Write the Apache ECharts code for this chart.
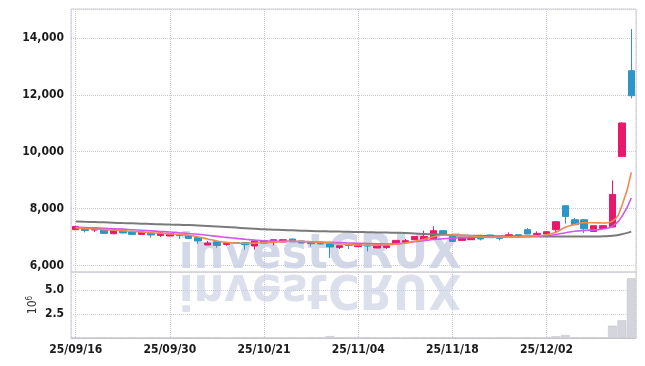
<!DOCTYPE html>
<html>
<head>
<meta charset="utf-8">
<script src="https://cdn.jsdelivr.net/npm/echarts@6/dist/echarts.min.js"></script>
<style>
  html, body { margin: 0; padding: 0; background: #fff; }
  #chart { width: 645px; height: 366px; }
</style>
</head>
<body>
<div id="chart"></div>
<script>
// daily candles, 25/09/16 .. 25/12/15
const dates = [
  '25/09/16', '25/09/17', '25/09/18', '25/09/19', '25/09/22', '25/09/23', '25/09/24', '25/09/25', '25/09/26', '25/09/29',
  '25/09/30', '25/10/01', '25/10/02', '25/10/10', '25/10/13', '25/10/14', '25/10/15', '25/10/16', '25/10/17', '25/10/20',
  '25/10/21', '25/10/22', '25/10/23', '25/10/24', '25/10/27', '25/10/28', '25/10/29', '25/10/30', '25/10/31', '25/11/03',
  '25/11/04', '25/11/05', '25/11/06', '25/11/07', '25/11/10', '25/11/11', '25/11/12', '25/11/13', '25/11/14', '25/11/17',
  '25/11/18', '25/11/19', '25/11/20', '25/11/21', '25/11/24', '25/11/25', '25/11/26', '25/11/27', '25/11/28', '25/12/01',
  '25/12/02', '25/12/03', '25/12/04', '25/12/05', '25/12/08', '25/12/09', '25/12/10', '25/12/11', '25/12/12', '25/12/15'
];

const opens = [
  7256, 7316, 7245, 7256, 7115, 7221, 7175, 7091, 7140, 7055,
  7034, 7091, 7045, 6985, 6718, 6834, 6739, 6799, 6809, 6682,
  6788, 6809, 6823, 6929, 6858, 6823, 6788, 6809, 6633, 6739,
  6658, 6718, 6612, 6633, 6753, 6809, 6904, 6904, 6939, 7221,
  7020, 6880, 6904, 6999, 7070, 6999, 6999, 7080, 7256, 7090,
  7105, 7256, 8100, 7608, 7608, 7196, 7302, 7351, 9835, 12850
];
const closes = [
  7372, 7231, 7291, 7126, 7256, 7140, 7091, 7175, 7070, 7140,
  7126, 7045, 6950, 6858, 6788, 6704, 6774, 6795, 6728, 6858,
  6869, 6904, 6904, 6834, 6788, 6763, 6753, 6647, 6693, 6704,
  6739, 6682, 6739, 6693, 6880, 6869, 7020, 7020, 7221, 7105,
  6844, 6990, 6999, 6929, 6974, 6950, 7080, 7020, 7105, 7126,
  7186, 7537, 7724, 7432, 7291, 7397, 7397, 8498, 11010, 11970
];
const lows = [
  7250, 7161, 7175, 7110, 7100, 7130, 7080, 7085, 6974, 6999,
  7025, 6929, 6940, 6763, 6710, 6623, 6693, 6790, 6552, 6552,
  6780, 6704, 6815, 6825, 6780, 6668, 6745, 6260, 6577, 6577,
  6650, 6493, 6605, 6577, 6745, 6800, 6895, 6895, 6930, 7095,
  6835, 6870, 6895, 6880, 6965, 6880, 6990, 6964, 7095, 7085,
  7100, 7161, 7467, 7420, 7140, 7190, 7295, 7340, 9815, 11875
];
const highs = [
  7380, 7330, 7326, 7265, 7265, 7235, 7185, 7180, 7150, 7210,
  7135, 7100, 7055, 6990, 6858, 6840, 6823, 6805, 6815, 6865,
  6875, 6910, 6910, 6935, 6865, 6830, 6834, 6815, 6700, 6745,
  6745, 6725, 6745, 6700, 6885, 6929, 7025, 7221, 7372, 7230,
  7030, 6995, 7005, 7005, 7075, 7005, 7161, 7085, 7316, 7196,
  7190, 7545, 8110, 7667, 7620, 7400, 7400, 8990, 11030, 14317
];

// moving averages
const maShort = [
  7320, 7300, 7280, 7260, 7240, 7220, 7200, 7175, 7150, 7130,
  7110, 7090, 7060, 7000, 6930, 6860, 6810, 6785, 6780, 6785,
  6800, 6820, 6840, 6850, 6845, 6830, 6810, 6790, 6760, 6740,
  6720, 6710, 6715, 6720, 6745, 6790, 6850, 6920, 7010, 7060,
  7070, 7060, 7040, 7010, 6995, 6995, 7005, 7010, 7030, 7040,
  7080, 7170, 7340, 7440, 7500, 7500, 7490, 7560, 8100, 9270
];
const maMid = [
  7340, 7330, 7320, 7305, 7290, 7275, 7255, 7235, 7215, 7195,
  7175, 7150, 7125, 7095, 7060, 7020, 6985, 6950, 6920, 6890,
  6865, 6855, 6850, 6845, 6840, 6830, 6820, 6810, 6800, 6790,
  6780, 6770, 6760, 6755, 6760, 6790, 6830, 6870, 6910, 6940,
  6960, 6975, 6985, 6990, 6995, 7000, 7005, 7010, 7020, 7030,
  7050, 7090, 7150, 7200, 7230, 7250, 7280, 7380, 7720, 8370
];
const maLong = [
  7548, 7536, 7525, 7514, 7502, 7490, 7480, 7469, 7458, 7446,
  7435, 7428, 7420, 7404, 7387, 7370, 7350, 7330, 7310, 7290,
  7270, 7258, 7246, 7234, 7222, 7210, 7203, 7196, 7189, 7182,
  7175, 7168, 7161, 7154, 7147, 7140, 7124, 7108, 7092, 7076,
  7060, 7053, 7046, 7039, 7032, 7025, 7023, 7021, 7019, 7017,
  7015, 7015, 7015, 7015, 7015, 7015, 7025, 7045, 7100, 7190
];

// volume in millions
const volumes = [
  0.03, 0.02, 0.02, 0.03, 0.02, 0.02, 0.02, 0.02, 0.03, 0.02,
  0.02, 0.02, 0.03, 0.03, 0.03, 0.03, 0.02, 0.02, 0.03, 0.03,
  0.02, 0.02, 0.02, 0.02, 0.02, 0.03, 0.02, 0.20, 0.03, 0.02,
  0.02, 0.03, 0.02, 0.02, 0.03, 0.02, 0.03, 0.03, 0.04, 0.03,
  0.03, 0.02, 0.02, 0.02, 0.02, 0.02, 0.02, 0.02, 0.03, 0.02,
  0.03, 0.18, 0.31, 0.05, 0.05, 0.04, 0.04, 1.28, 1.84, 6.20
];

const FONT = '"DejaVu Sans Condensed", sans-serif';
const dotted = { color: '#c8cbe0', type: 'dotted', width: 1 };
const tickFont = { color: '#1a1a1a', fontFamily: FONT, fontSize: 12, fontWeight: 'bold' };
const wmFont = 'bold 48px "DejaVu Sans Condensed", sans-serif';

const candles = dates.map((d, i) => [opens[i], closes[i], lows[i], highs[i]]);

const chart = echarts.init(document.getElementById('chart'), null, { renderer: 'canvas' });

const option = {
  animation: false,
  backgroundColor: '#fff',
  graphic: [
    {
      type: 'text', x: 320, y: 280, z: 0, silent: true,
      style: { text: 'investCRUX', align: 'center', verticalAlign: 'bottom', font: wmFont, fill: '#d3d8e8' }
    },
    {
      type: 'text', x: 320, y: 263, scaleY: -1, z: 0, silent: true,
      style: { text: 'investCRUX', align: 'center', verticalAlign: 'bottom', font: wmFont, fill: 'rgba(211,216,232,0.8)' }
    }
  ],
  grid: [
    { left: 71, right: 9, top: 9, height: 263, show: true, borderColor: '#cfcfd6', borderWidth: 1, z: 1 },
    { left: 71, right: 9, top: 272, height: 66, show: true, borderColor: '#cfcfd6', borderWidth: 1, z: 1 }
  ],
  xAxis: [
    {
      type: 'category', gridIndex: 0, data: dates, boundaryGap: true,
      axisLine: { show: false }, axisTick: { show: false }, axisLabel: { show: false },
      splitLine: { show: false }
    },
    {
      type: 'category', gridIndex: 1, data: dates, boundaryGap: true,
      axisLine: { show: true, lineStyle: { color: '#bdbdc4' } },
      axisTick: { show: false },
      axisLabel: Object.assign({ interval: 9, margin: 6 }, tickFont),
      splitLine: { show: false }
    },
    // helper axes for the vertical dotted grid through candle centres
    {
      type: 'value', gridIndex: 0, min: -0.5, max: 59.5, splitNumber: 6, show: true,
      axisLine: { show: false }, axisTick: { show: false }, axisLabel: { show: false },
      splitLine: { show: true, lineStyle: dotted }
    },
    {
      type: 'value', gridIndex: 1, min: -0.5, max: 59.5, splitNumber: 6, show: true,
      axisLine: { show: false }, axisTick: { show: false }, axisLabel: { show: false },
      splitLine: { show: true, lineStyle: dotted }
    }
  ],
  yAxis: [
    {
      type: 'value', gridIndex: 0, min: 5768, max: 15020, splitNumber: 5, scale: true,
      axisLine: { show: false }, axisTick: { show: false },
      axisLabel: Object.assign({
        showMinLabel: false, showMaxLabel: false, margin: 7,
        formatter: v => v.toLocaleString('en-US')
      }, tickFont),
      splitLine: { show: true, lineStyle: dotted }
    },
    {
      type: 'value', gridIndex: 1, min: 0, max: 6.85, interval: 2.5,
      name: '10{s|6}', nameLocation: 'middle', nameGap: 31, nameRotate: 90, nameMoveOverlap: false,
      nameTextStyle: {
        color: '#333', fontFamily: FONT, fontSize: 12,
        rich: { s: { fontSize: 8, fontFamily: FONT, color: '#333', verticalAlign: 'top', padding: [0, 0, 6, 0] } }
      },
      axisLine: { show: false }, axisTick: { show: false },
      axisLabel: Object.assign({
        showMinLabel: false, showMaxLabel: false, margin: 7,
        formatter: v => v.toFixed(1)
      }, tickFont),
      splitLine: { show: true, lineStyle: dotted }
    }
  ],
  series: [
    {
      name: 'price', type: 'candlestick', xAxisIndex: 0, yAxisIndex: 0,
      data: candles, barWidth: 7,
      itemStyle: {
        color: '#e8196b', color0: '#2d96c8',
        borderColor: '#e8196b', borderColor0: '#2d96c8', borderWidth: 1
      }
    },
    {
      name: 'MA long', type: 'line', xAxisIndex: 0, yAxisIndex: 0, data: maLong,
      smooth: true, showSymbol: false, lineStyle: { color: '#7a7a7a', width: 2 }
    },
    {
      name: 'MA mid', type: 'line', xAxisIndex: 0, yAxisIndex: 0, data: maMid,
      smooth: true, showSymbol: false, lineStyle: { color: '#cc5ce8', width: 1.6 }
    },
    {
      name: 'MA short', type: 'line', xAxisIndex: 0, yAxisIndex: 0, data: maShort,
      smooth: true, showSymbol: false, lineStyle: { color: '#ef8a52', width: 1.6 }
    },
    {
      name: 'volume', type: 'bar', xAxisIndex: 1, yAxisIndex: 1, data: volumes,
      barCategoryGap: '6%',
      itemStyle: { color: '#d4d4dc', borderColor: '#c2c2ca', borderWidth: 0.5 }
    }
  ]
};

chart.setOption(option);
</script>
</body>
</html>
